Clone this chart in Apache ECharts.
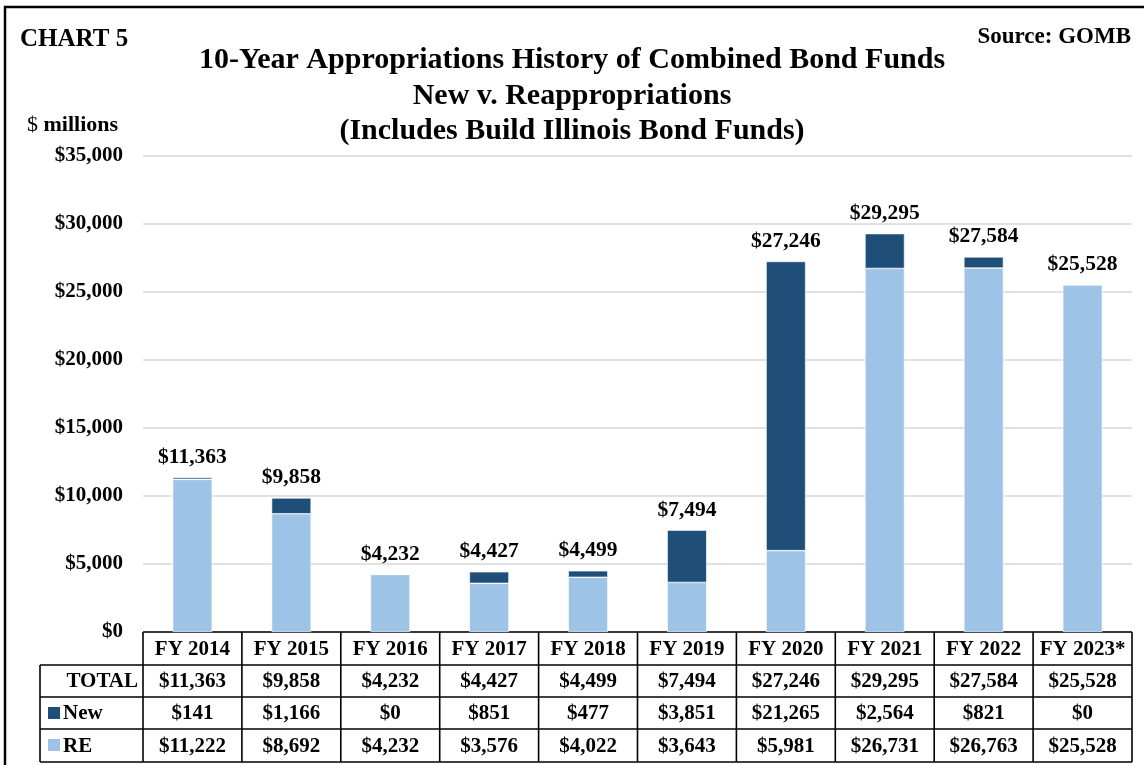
<!DOCTYPE html>
<html><head><meta charset="utf-8">
<script src="https://cdn.jsdelivr.net/npm/echarts@6/dist/echarts.min.js"></script>
<style>html,body{margin:0;padding:0;background:#fff}#c{width:1144px;height:765px}</style>
</head><body><div id="c"></div>
<script>
const categories = ['FY 2014','FY 2015','FY 2016','FY 2017','FY 2018','FY 2019','FY 2020','FY 2021','FY 2022','FY 2023*'];
const reValues = [11222, 8692, 4232, 3576, 4022, 3643, 5981, 26731, 26763, 25528];
const newValues = [141, 1166, 0, 851, 477, 3851, 21265, 2564, 821, 0];
const totalValues = [11363, 9858, 4232, 4427, 4499, 7494, 27246, 29295, 27584, 25528];
const yTicks = [0, 5000, 10000, 15000, 20000, 25000, 30000, 35000];

const FONT = '"Liberation Serif", "Times New Roman", serif';
const C_NEW = '#1F4E79', C_RE = '#9DC3E6';
const fmt = v => '$' + v.toLocaleString('en-US');

const chart = echarts.init(document.getElementById('c'), null, {renderer: 'canvas'});
const GL = 143, GR = 12, GT = 156, GB = 765 - 632;

const option = {
  animation: false,
  backgroundColor: '#fff',
  grid: {left: GL, right: GR, top: GT, bottom: GB, containLabel: false},
  xAxis: {
    type: 'category', data: categories,
    axisLine: {show: false}, axisTick: {show: false}, axisLabel: {show: false}
  },
  yAxis: {
    type: 'value', min: yTicks[0], max: yTicks[yTicks.length - 1], interval: 5000,
    axisLine: {show: false}, axisTick: {show: false},
    splitLine: {lineStyle: {color: '#D9D9D9', width: 1.5}},
    axisLabel: {formatter: v => fmt(v), fontFamily: FONT, fontWeight: 'bold', fontSize: 21, color: '#000', margin: 20}
  },
  series: [
    {name: 'RE', type: 'bar', stack: 'a', data: reValues, barWidth: '40%',
     itemStyle: {color: C_RE, borderColor: '#fff', borderWidth: 0.6}},
    {name: 'New', type: 'bar', stack: 'a', data: newValues, barWidth: '40%',
     itemStyle: {color: C_NEW, borderColor: '#fff', borderWidth: 0.6},
     label: {show: true, position: 'top', distance: 9,
       formatter: p => fmt(totalValues[p.dataIndex]),
       fontFamily: FONT, fontWeight: 'bold', fontSize: 21.5, color: '#000'}}
  ]
};
chart.setOption(option);

const g = [];
const txt = (x, y, text, opts) => g.push({type: 'text', x, y, style: Object.assign({text, fontFamily: FONT, fontWeight: 'bold', fontSize: 21, fill: '#000', textAlign: 'center', textVerticalAlign: 'middle'}, opts || {})});
g.push({type: 'polyline', shape: {points: [[5, 775], [5, 7], [1150, 7]]}, style: {stroke: '#000', lineWidth: 2.5, fill: null}});
txt(20, 40, 'CHART 5', {textAlign: 'left', fontSize: 25});
txt(1131, 37, 'Source: GOMB', {textAlign: 'right', fontSize: 23});
txt(572, 60, '10-Year Appropriations History of Combined Bond Funds', {fontSize: 30});
txt(572, 96, 'New v. Reappropriations', {fontSize: 30});
txt(572, 131, '(Includes Build Illinois Bond Funds)', {fontSize: 30});
g.push({type: 'text', x: 27, y: 125, style: {rich: {a: {fontFamily: FONT, fontSize: 22, fill: '#000'}, b: {fontFamily: FONT, fontSize: 22, fontWeight: 'bold', fill: '#000'}}, text: '{a|$ }{b|millions}', textVerticalAlign: 'middle'}});

const bw = (1144 - GL - GR) / categories.length;
const rows = [632, 665, 697, 729, 762];
const labelL = 40;
const line = (x1, y1, x2, y2) => g.push({type: 'line', shape: {x1, y1, x2, y2}, style: {stroke: '#000', lineWidth: 1.6}});
line(GL, rows[0], GL + bw * 10, rows[0]);
for (let r = 1; r < rows.length; r++) line(labelL, rows[r], GL + bw * 10, rows[r]);
line(labelL, rows[1], labelL, rows[4]);
for (let i = 0; i <= 10; i++) { const x = GL + bw * i; line(x, rows[0], x, rows[4]); }
categories.forEach((c, i) => {
  const cx = chart.convertToPixel({xAxisIndex: 0}, i);
  txt(cx, (rows[0] + rows[1]) / 2 + 1, c);
  txt(cx, (rows[1] + rows[2]) / 2 + 1, fmt(totalValues[i]));
  txt(cx, (rows[2] + rows[3]) / 2 + 1, fmt(newValues[i]));
  txt(cx, (rows[3] + rows[4]) / 2 + 1, fmt(reValues[i]));
});
txt(GL - 5, (rows[1] + rows[2]) / 2 + 1, 'TOTAL', {textAlign: 'right'});
g.push({type: 'rect', shape: {x: 48, y: 707, width: 12, height: 12}, style: {fill: C_NEW}});
txt(63, (rows[2] + rows[3]) / 2 + 1, 'New', {textAlign: 'left'});
g.push({type: 'rect', shape: {x: 48, y: 739, width: 12, height: 12}, style: {fill: C_RE}});
txt(63, (rows[3] + rows[4]) / 2 + 1, 'RE', {textAlign: 'left'});

chart.setOption({graphic: g});
</script></body></html>
